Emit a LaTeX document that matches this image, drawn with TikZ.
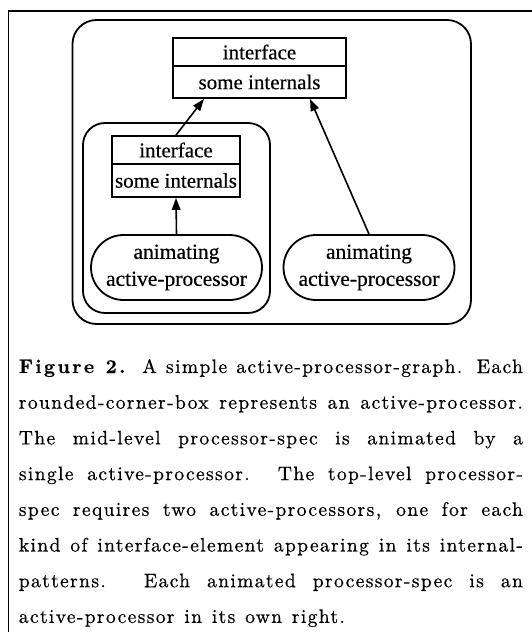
\documentclass[tikz,border=0pt]{standalone}
\usepackage{fontspec}
\usetikzlibrary{arrows.meta,calc}
\newfontfamily\diagfont{Liberation Serif}[FakeBold=0.4]
\newfontfamily\capfont{lmroman10-regular.otf}[LetterSpace=7,FakeBold=0.6,BoldFont=lmroman10-bold.otf,BoldFeatures={LetterSpace=12,FakeBold=0.4}]
\newcommand{\capline}[2][504pt]{\hbox to #1{#2}}
\begin{document}
\begin{tikzpicture}[x=1pt,y=-1pt,line width=1.8pt,
  procbox/.style={draw,rectangle,inner sep=0pt},
  cell/.style={draw,rectangle,inner sep=0pt,font=\diagfont\fontsize{21}{24}\selectfont},
  stadium/.style={draw,rectangle,rounded corners=32.5pt,inner sep=0pt,minimum width=171pt,minimum height=65pt,align=center,font=\diagfont\fontsize{21.5}{27}\selectfont},
  arr/.style={line width=1.6pt,-{Triangle[length=12pt,width=8.5pt]}},
  capnode/.style={anchor=base west,inner sep=0pt,font=\capfont\fontsize{19.5}{35.7}\selectfont}]
\useasboundingbox (0,0) rectangle (532,632);

% page frame
\draw[line width=1.5pt] (8.5,632) -- (8.5,11) -- (532,11);

% active-processor containers
\node[procbox,rounded corners=24pt,minimum width=398.5pt,minimum height=304pt] (outer) at (271.75,172) {};
\node[procbox,rounded corners=22pt,minimum width=187pt,minimum height=190pt] (inner) at (176.5,218) {};

% top-level processor-spec record
\node[cell,minimum width=173pt,minimum height=28pt] (topif) at (259.5,52) {interface};
\node[cell,minimum width=173pt,minimum height=32pt] (topin) at (259.5,82) {some internals};

% mid-level processor-spec record
\node[cell,minimum width=128pt,minimum height=28pt] (midif) at (176,150) {interface};
\node[cell,minimum width=128pt,minimum height=33pt] (midin) at (176,180.5) {some internals};

% animating active-processors
\node[stadium] (ls) at (176.5,267.5) {animating\\active-processor};
\node[stadium] (rs) at (369,267.5) {animating\\active-processor};

% animation links
\draw[arr] (midif.north) -- ($(topin.south)+(-55.5,0)$);
\draw[arr] (ls.north) -- (midin.south);
\draw[arr] (rs.north) -- ($(topin.south)+(50.5,0)$);

% caption
\node[capnode] (cap1) at (18,373) {\capline{\textbf{Figure 2.} A simple active-processor-graph. Each}};
\node[capnode] (cap2) at (18,408.7) {\capline{rounded-corner-box represents an active-processor.}};
\node[capnode] (cap3) at (18,444.4) {\capline{The mid-level processor-spec is animated by a}};
\node[capnode] (cap4) at (18,480.1) {\capline{single active-processor. The top-level processor-}};
\node[capnode] (cap5) at (18,515.8) {\capline{spec requires two active-processors, one for each}};
\node[capnode] (cap6) at (18,551.5) {\capline{kind of interface-element appearing in its internal-}};
\node[capnode] (cap7) at (18,587.2) {\capline{patterns. Each animated processor-spec is an}};
\node[capnode] (cap8) at (18,622.9) {\capline[326pt]{active-processor in its own right.}};
\end{tikzpicture}
\end{document}
